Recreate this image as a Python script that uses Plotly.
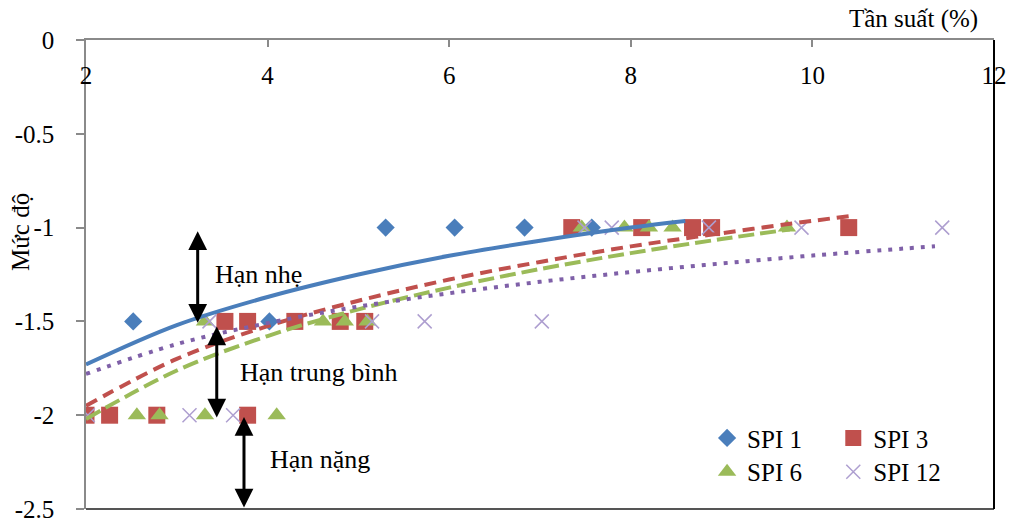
import plotly.graph_objects as go

# ---------------- data ----------------
spi1_x = [2.52, 4.02, 5.30, 6.06, 6.83, 7.57]
spi1_y = [-1.5, -1.5, -1.0, -1.0, -1.0, -1.0]

spi3_x = [2.00, 2.26, 2.78, 3.78, 3.53, 3.78, 4.30, 4.80, 5.07, 7.35, 8.12, 8.68, 8.89, 10.40]
spi3_y = [-2.0, -2.0, -2.0, -2.0, -1.5, -1.5, -1.5, -1.5, -1.5, -1.0, -1.0, -1.0, -1.0, -1.0]

spi6_x = [2.56, 2.81, 3.31, 4.10, 3.31, 4.61, 4.85, 5.10, 7.46, 7.93, 8.20, 8.46, 9.72]
spi6_y = [-2.0, -2.0, -2.0, -2.0, -1.5, -1.5, -1.5, -1.5, -1.0, -1.0, -1.0, -1.0, -1.0]

spi12_x = [2.02, 3.14, 3.62, 3.36, 5.15, 5.73, 7.02, 7.49, 7.79, 8.86, 9.88, 11.43]
spi12_y = [-2.0, -2.0, -2.0, -1.5, -1.5, -1.5, -1.5, -1.0, -1.0, -1.0, -1.0, -1.0]

# trend lines (logarithmic)
trend1_x = [2, 3, 4, 5, 6, 7, 8, 8.6]
trend1_y = [-1.73, -1.52, -1.37, -1.25, -1.15, -1.07, -1.00, -0.965]
trend3_x = [2, 3, 4, 5, 6, 7, 8, 9, 10, 10.45]
trend3_y = [-1.95, -1.70, -1.525, -1.39, -1.277, -1.183, -1.10, -1.03, -0.964, -0.937]
trend6_x = [2, 3, 4, 5, 6, 7, 8, 9, 9.75]
trend6_y = [-2.02, -1.762, -1.578, -1.436, -1.32, -1.221, -1.136, -1.061, -1.01]
trend12_x = [2, 3, 4, 5, 6, 7, 8, 9, 10, 11, 11.35]
trend12_y = [-1.78, -1.621, -1.509, -1.421, -1.35, -1.289, -1.237, -1.191, -1.149, -1.112, -1.10]

series_names = ["SPI 1", "SPI 3", "SPI 6", "SPI 12"]

x_tickvals = [2, 4, 6, 8, 10, 12]
x_ticktext = ["2", "4", "6", "8", "10", "12"]
y_tickvals = [0, -0.5, -1, -1.5, -2, -2.5]
y_ticktext = ["0", "-0.5", "-1", "-1.5", "-2", "-2.5"]

# ---------------- styles ----------------
FONT = "Liberation Serif"
FS = 25
BLUE = "#4A7EBB"
RED = "#C0504D"
GREEN = "#9BBB59"
PURPLE_M = "#AE9FD0"
PURPLE_L = "#7F60A8"
AX = "#8A8A8A"

fig = go.Figure()

fig.add_trace(go.Scatter(x=spi1_x, y=spi1_y, mode="markers", name=series_names[0], legend="legend",
                         marker=dict(symbol="diamond", size=14, color=BLUE)))
fig.add_trace(go.Scatter(x=spi3_x, y=spi3_y, mode="markers", name=series_names[1], legend="legend2",
                         marker=dict(symbol="square", size=17, color=RED)))
fig.add_trace(go.Scatter(x=spi6_x, y=spi6_y, mode="markers", name=series_names[2], legend="legend3",
                         marker=dict(symbol="triangle-up", size=16, color=GREEN)))
fig.add_trace(go.Scatter(x=spi12_x, y=spi12_y, mode="markers", name=series_names[3], legend="legend4",
                         marker=dict(symbol="x-thin", size=14, color=PURPLE_M,
                                     line=dict(color=PURPLE_M, width=1.5))))

fig.add_trace(go.Scatter(x=trend1_x, y=trend1_y, mode="lines", showlegend=False,
                         line=dict(color=BLUE, width=4, shape="spline"), hoverinfo="skip"))
fig.add_trace(go.Scatter(x=trend3_x, y=trend3_y, mode="lines", showlegend=False,
                         line=dict(color=RED, width=4, dash="12px,7px", shape="spline"), hoverinfo="skip"))
fig.add_trace(go.Scatter(x=trend6_x, y=trend6_y, mode="lines", showlegend=False,
                         line=dict(color=GREEN, width=4, dash="16px,6px", shape="spline"), hoverinfo="skip"))
fig.add_trace(go.Scatter(x=trend12_x, y=trend12_y, mode="lines", showlegend=False,
                         line=dict(color=PURPLE_L, width=4, dash="4px,7px", shape="spline"), hoverinfo="skip"))

# double-headed arrows
arrows = [(3.23, -1.02, -1.515), (3.44, -1.527, -2.02), (3.74, -2.01, -2.5)]
for ax_x, y_top, y_bot in arrows:
    fig.add_annotation(x=ax_x, y=y_top, ax=ax_x, ay=y_bot, xref="x", yref="y", axref="x", ayref="y",
                       text="", showarrow=True, arrowhead=2, startarrowhead=2, arrowside="end+start",
                       arrowwidth=3, arrowsize=1.25, startarrowsize=1.25, arrowcolor="black")

labels = [("Hạn nhẹ", 3.40, -1.25), ("Hạn trung bình", 3.67, -1.77), ("Hạn nặng", 4.0, -2.234)]
for txt, lx, ly in labels:
    fig.add_annotation(x=lx, y=ly, xref="x", yref="y", text=txt, showarrow=False,
                       xanchor="left", yanchor="middle", font=dict(family=FONT, size=26, color="black"))

# axis titles
fig.add_annotation(x=0.985, y=1.045, xref="paper", yref="paper", text="Tần suất (%)", showarrow=False,
                   xanchor="right", yanchor="middle", font=dict(family=FONT, size=FS, color="black"))
fig.add_annotation(x=-0.072, y=0.59, xref="paper", yref="paper", text="Mức độ", showarrow=False,
                   textangle=-90, xanchor="center", yanchor="middle",
                   font=dict(family=FONT, size=FS, color="black"))

# plot area borders (right and bottom)
fig.add_shape(type="line", xref="paper", yref="paper", x0=0, x1=1, y0=0, y1=0,
              line=dict(color="#555555", width=2))
fig.add_shape(type="line", xref="paper", yref="paper", x0=1, x1=1, y0=0, y1=1,
              line=dict(color="black", width=2))

leg_common = dict(xanchor="left", yanchor="middle", bgcolor="rgba(0,0,0,0)", borderwidth=0,
                  font=dict(family=FONT, size=FS, color="black"), itemclick=False)
fig.update_layout(
    width=1011, height=520,
    margin=dict(l=86, r=17, t=40, b=11, autoexpand=False),
    paper_bgcolor="white", plot_bgcolor="white",
    font=dict(family=FONT, size=FS, color="black"),
    showlegend=True,
    legend=dict(x=0.684, y=0.151, **leg_common),
    legend2=dict(x=0.823, y=0.151, **leg_common),
    legend3=dict(x=0.684, y=0.079, **leg_common),
    legend4=dict(x=0.823, y=0.079, **leg_common),
    xaxis=dict(range=[2, 12], side="top", showline=True, linecolor=AX, linewidth=1.5,
               ticks="inside", ticklen=7, tickcolor=AX, tickwidth=1.5,
               ticklabelposition="inside", ticklabeloverflow="allow", ticklabelstandoff=22,
               tickvals=x_tickvals, ticktext=x_ticktext, showgrid=False, zeroline=False,
               tickfont=dict(family=FONT, size=FS, color="black")),
    yaxis=dict(range=[-2.5, 0], showline=True, linecolor=AX, linewidth=1.5,
               ticks="outside", ticklen=8, tickcolor=AX, tickwidth=1.5,
               tickvals=y_tickvals, ticktext=y_ticktext, showgrid=False, zeroline=False,
               ticklabelstandoff=17, ticklabeloverflow="allow",
               tickfont=dict(family=FONT, size=FS, color="black")),
)

fig.write_html("out.html", config={"displayModeBar": False},
               post_script="document.body.style.margin='0px';")
